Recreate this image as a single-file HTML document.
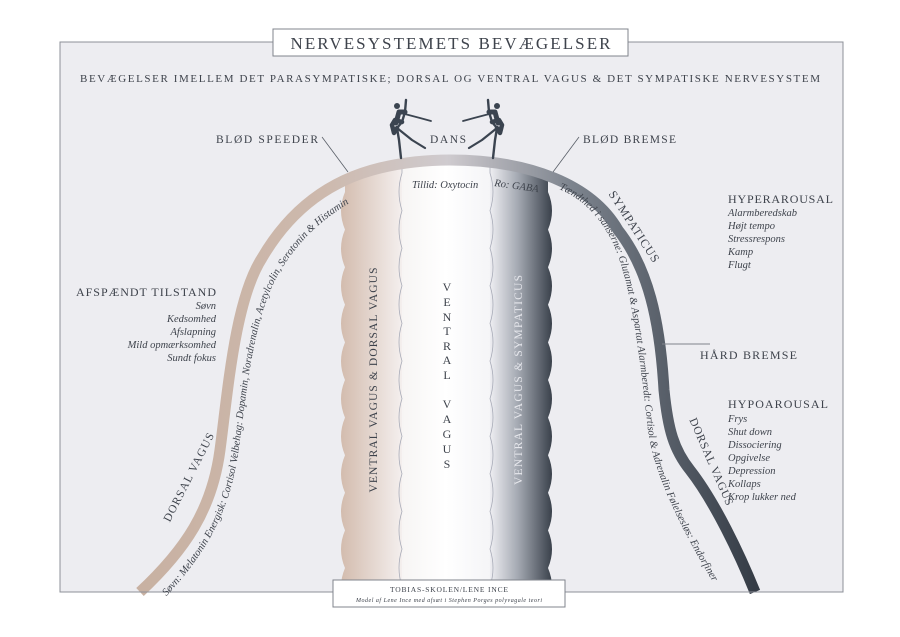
<!DOCTYPE html>
<html><head><meta charset="utf-8"><style>
html,body{margin:0;padding:0;background:#fff;}
svg{display:block;}
text{font-family:"Liberation Serif",serif;fill:#3e434c;}
.it{font-style:italic;font-size:10.5px;}
</style></head><body>
<svg width="900" height="637" viewBox="0 0 900 637" xmlns="http://www.w3.org/2000/svg">
<defs>
<linearGradient id="arcg" gradientUnits="userSpaceOnUse" x1="140" y1="0" x2="755" y2="0">
<stop offset="0" stop-color="#c8b1a2"/>
<stop offset="0.3" stop-color="#cdb9ad"/>
<stop offset="0.5" stop-color="#cfcbcf"/>
<stop offset="0.7" stop-color="#7d848e"/>
<stop offset="1" stop-color="#353c46"/>
</linearGradient>
<linearGradient id="c1" x1="0" y1="0" x2="1" y2="0">
<stop offset="0" stop-color="#d3bcae"/><stop offset="1" stop-color="#f4efee"/>
</linearGradient>
<linearGradient id="c2" x1="0" y1="0" x2="1" y2="0">
<stop offset="0" stop-color="#f7f5f4"/><stop offset="0.5" stop-color="#ffffff"/><stop offset="1" stop-color="#f5f5f7"/>
</linearGradient>
<linearGradient id="c3" x1="0" y1="0" x2="1" y2="0">
<stop offset="0" stop-color="#eeeef2"/><stop offset="0.45" stop-color="#a4a9b2"/><stop offset="1" stop-color="#3a414b"/>
</linearGradient>
<clipPath id="under">
<path d="M140,592 C185,550 212,510 220,450 C228,390 235,300 262,258 C290,210 330,180 380,168 C405,162 430,160 450,160 C530,160 592,185 618,230 C648,268 660,320 664,390 C668,430 674,450 690,470 C715,502 740,555 755,592 Z"/>
</clipPath>
<path id="lin" d="M163,600 C200,560 228,520 238,455 C246,400 252,320 278,275 C305,228 345,200 395,182"/>
<path id="rin" d="M556,188 C590,200 612,232 622,268 C635,310 642,380 648,430 C654,480 690,545 725,602"/>
</defs>
<rect x="0" y="0" width="900" height="637" fill="#fff"/>
<rect x="60" y="42" width="783" height="550" fill="#ededf1" stroke="#8d9098" stroke-width="1"/>

<g clip-path="url(#under)">
<path d="M402,150 L345,150 L345,192 q-8 18.8 0 37.6 q-8 18.8 0 37.6 q-8 18.8 0 37.6 q-8 18.8 0 37.6 q-8 18.8 0 37.6 q-8 18.8 0 37.6 q-8 18.8 0 37.6 q-8 18.8 0 37.6 q-8 18.8 0 37.6 q-8 18.8 0 37.6 q-8 18.8 0 37.6 L402,600 Z" fill="url(#c1)"/>
<rect x="402" y="150" width="88" height="450" fill="url(#c2)"/>
<path d="M490,150 L548,150 L548,192 q8 18.8 0 37.6 q8 18.8 0 37.6 q8 18.8 0 37.6 q8 18.8 0 37.6 q8 18.8 0 37.6 q8 18.8 0 37.6 q8 18.8 0 37.6 q8 18.8 0 37.6 q8 18.8 0 37.6 q8 18.8 0 37.6 q8 18.8 0 37.6 L490,600 Z" fill="url(#c3)"/>
<path d="M402,150 L402,173 q-6 18.8 0 37.6 q-6 18.8 0 37.6 q-6 18.8 0 37.6 q-6 18.8 0 37.6 q-6 18.8 0 37.6 q-6 18.8 0 37.6 q-6 18.8 0 37.6 q-6 18.8 0 37.6 q-6 18.8 0 37.6 q-6 18.8 0 37.6 q-6 18.8 0 37.6 q-6 18.8 0 37.6" fill="none" stroke="#a9acb8" stroke-width="0.8"/>
<path d="M490,150 L490,173 q6 18.8 0 37.6 q6 18.8 0 37.6 q6 18.8 0 37.6 q6 18.8 0 37.6 q6 18.8 0 37.6 q6 18.8 0 37.6 q6 18.8 0 37.6 q6 18.8 0 37.6 q6 18.8 0 37.6 q6 18.8 0 37.6 q6 18.8 0 37.6 q6 18.8 0 37.6" fill="none" stroke="#a9acb8" stroke-width="0.8"/>
</g>

<path d="M140,592 C185,550 212,510 220,450 C228,390 235,300 262,258 C290,210 330,180 380,168 C405,162 430,160 450,160 C530,160 592,185 618,230 C648,268 660,320 664,390 C668,430 674,450 690,470 C715,502 740,555 755,592" fill="none" stroke="url(#arcg)" stroke-width="11"/>

<line x1="60" y1="592" x2="843" y2="592" stroke="#8d9098" stroke-width="1"/>

<rect x="273" y="29" width="355" height="27" fill="#fff" stroke="#80848c" stroke-width="1"/>
<text x="450.5" y="49" text-anchor="middle" font-size="17" textLength="320" lengthAdjust="spacing">NERVESYSTEMETS BEVÆGELSER</text>
<text x="450" y="82" text-anchor="middle" font-size="11" textLength="740" lengthAdjust="spacing">BEVÆGELSER IMELLEM DET PARASYMPATISKE; DORSAL OG VENTRAL VAGUS &amp; DET SYMPATISKE NERVESYSTEM</text>

<text x="216" y="143" font-size="11.5" textLength="102" lengthAdjust="spacing">BLØD SPEEDER</text>
<line x1="322" y1="137" x2="348" y2="172" stroke="#5a5f68" stroke-width="0.8"/>
<text x="430" y="143" font-size="11.5" textLength="36" lengthAdjust="spacing">DANS</text>
<text x="583" y="143" font-size="11.5" textLength="93" lengthAdjust="spacing">BLØD BREMSE</text>
<line x1="579" y1="137" x2="553" y2="172" stroke="#5a5f68" stroke-width="0.8"/>

<g fill="none" stroke="#3b4450" stroke-linecap="round" stroke-linejoin="round">
<path d="M401,158 L399,140 L397,128 L402,122 L405,112 L406,100" stroke-width="2.4"/>
<path d="M397,128 L412,140 L425,148" stroke-width="2.2"/>
<path d="M402,122 L395,120 L392,125 L394,133 L397,128" stroke-width="4.5"/>
<path d="M401,113 L420,118 L431,121" stroke-width="1.8"/>
<path d="M396,123 L399,112 L405,112" stroke-width="5"/>
<circle cx="397" cy="106" r="3" fill="#3b4450" stroke="none"/>
<path d="M493,158 L495,140 L497,128 L492,122 L489,112 L488,100" stroke-width="2.4"/>
<path d="M497,128 L482,140 L469,148" stroke-width="2.2"/>
<path d="M492,122 L499,120 L502,125 L500,133 L497,128" stroke-width="4.5"/>
<path d="M493,113 L474,118 L463,121" stroke-width="1.8"/>
<path d="M498,123 L495,112 L489,112" stroke-width="5"/>
<circle cx="497" cy="106" r="3" fill="#3b4450" stroke="none"/>
</g>

<text x="412" y="188" class="it">Tillid: Oxytocin</text>
<text x="494" y="186" class="it" transform="rotate(8 494 186)">Ro: GABA</text>
<text transform="translate(377,380) rotate(-90)" text-anchor="middle" font-size="11.5" textLength="225" lengthAdjust="spacing">VENTRAL VAGUS &amp; DORSAL VAGUS</text>
<text transform="translate(522,380) rotate(-90)" text-anchor="middle" font-size="11.5" textLength="210" lengthAdjust="spacing" style="fill:#e6e7ec">VENTRAL VAGUS &amp; SYMPATICUS</text>
<g font-size="12" text-anchor="middle">
<text x="447" y="291">V</text><text x="447" y="306">E</text><text x="447" y="321">N</text><text x="447" y="335">T</text><text x="447" y="350">R</text><text x="447" y="364">A</text><text x="447" y="379">L</text>
<text x="447" y="408">V</text><text x="447" y="423">A</text><text x="447" y="438">G</text><text x="447" y="453">U</text><text x="447" y="468">S</text>
</g>

<text class="it" font-size="10"><textPath href="#lin" startOffset="5">Søvn: Melatonin    Energisk: Cortisol    Velbehag: Dopamin, Noradrenalin, Acetylcolin, Serotonin &amp; Histamin</textPath></text>
<text class="it" font-size="10"><textPath href="#rin" startOffset="3">Tændthed i sanserne: Glutamat &amp; Aspartat    Alarmberedt: Cortisol &amp; Adrenalin    Følelsesløs: Endorfiner</textPath></text>
<text transform="translate(192,479) rotate(-63)" text-anchor="middle" font-size="11.5" textLength="98" lengthAdjust="spacing">DORSAL VAGUS</text>
<text transform="translate(631,229) rotate(57)" text-anchor="middle" font-size="12" letter-spacing="1">SYMPATICUS</text>
<text transform="translate(708,463) rotate(66.5)" text-anchor="middle" font-size="11.5" textLength="94" lengthAdjust="spacing">DORSAL VAGUS</text>

<text x="216" y="296" text-anchor="end" font-size="12" textLength="140" lengthAdjust="spacing">AFSPÆNDT TILSTAND</text>
<g class="it" text-anchor="end">
<text x="216" y="309">Søvn</text>
<text x="216" y="322">Kedsomhed</text>
<text x="216" y="335">Afslapning</text>
<text x="216" y="348">Mild opmærksomhed</text>
<text x="216" y="361">Sundt fokus</text>
</g>

<text x="728" y="203" font-size="12" textLength="105" lengthAdjust="spacing">HYPERAROUSAL</text>
<g class="it">
<text x="728" y="216">Alarmberedskab</text>
<text x="728" y="229">Højt tempo</text>
<text x="728" y="242">Stressrespons</text>
<text x="728" y="255">Kamp</text>
<text x="728" y="268">Flugt</text>
</g>
<line x1="662" y1="344" x2="710" y2="344" stroke="#80848c" stroke-width="1"/>
<text x="700" y="359" font-size="12" textLength="97" lengthAdjust="spacing">HÅRD BREMSE</text>
<text x="728" y="408" font-size="12" textLength="100" lengthAdjust="spacing">HYPOAROUSAL</text>
<g class="it">
<text x="728" y="422">Frys</text>
<text x="728" y="435">Shut down</text>
<text x="728" y="448">Dissociering</text>
<text x="728" y="461">Opgivelse</text>
<text x="728" y="474">Depression</text>
<text x="728" y="487">Kollaps</text>
<text x="728" y="500">Krop lukker ned</text>
</g>

<rect x="333" y="580" width="232" height="27" fill="#fff" stroke="#80848c" stroke-width="1"/>
<text x="449" y="592" text-anchor="middle" font-size="7.5" textLength="118" lengthAdjust="spacing">TOBIAS-SKOLEN/LENE INCE</text>
<text x="449" y="602" text-anchor="middle" font-size="6" font-style="italic" textLength="186" lengthAdjust="spacing">Model af Lene Ince med afsæt i Stephen Porges polyvagale teori</text>
</svg>
</body></html>
